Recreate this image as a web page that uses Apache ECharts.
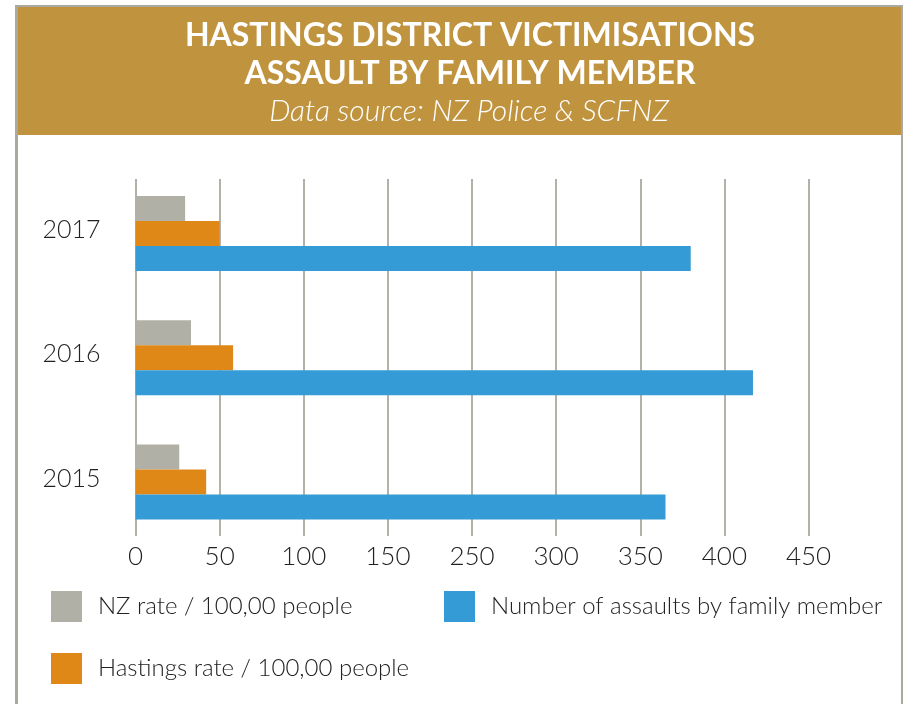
<!DOCTYPE html>
<html>
<head>
<meta charset="utf-8">
<script src="https://cdn.jsdelivr.net/npm/echarts@6/dist/echarts.min.js"></script>
<style>
html,body{margin:0;padding:0;background:#fff;}
#chart{width:903px;height:704px;}
</style>
</head>
<body>
<div id="chart"></div>
<script>
// ---- data ----
const years = ['2015', '2016', '2017'];
const nzRate = [26, 33, 29.5];
const hastingsRate = [42, 58, 50];
const assaults = [315, 367, 330];
const tickLabels = ['0', '50', '100', '150', '250', '300', '350', '400', '450'];
const seriesNames = ['NZ rate / 100,00 people', 'Hastings rate / 100,00 people', 'Number of assaults by family member'];
const titleLines = ['HASTINGS DISTRICT VICTIMISATIONS', 'ASSAULT BY FAMILY MEMBER', 'Data source: NZ Police & SCFNZ'];

const FONT = 'Lato';
const frameColor = '#aba99f';
const chart = echarts.init(document.getElementById('chart'), null, {renderer: 'canvas'});

const option = {
  backgroundColor: '#ffffff',
  animation: false,
  graphic: [
    {type: 'rect', z: -10, shape: {x: 18, y: 7, width: 884, height: 128}, style: {fill: '#c0943f'}},
    {type: 'rect', z: -10, shape: {x: 15, y: 5, width: 3, height: 700}, style: {fill: frameColor}},
    {type: 'rect', z: -10, shape: {x: 15, y: 5, width: 888, height: 2}, style: {fill: frameColor}},
    {type: 'rect', z: -10, shape: {x: 901, y: 5, width: 2, height: 700}, style: {fill: frameColor}}
  ],
  title: [
    {text: titleLines[0], left: 465, top: 15, textAlign: 'center',
     textStyle: {fontFamily: FONT, fontWeight: 'bold', fontSize: 32, color: '#ffffff'}},
    {text: titleLines[1], left: 465, top: 53, textAlign: 'center',
     textStyle: {fontFamily: FONT, fontWeight: 'bold', fontSize: 32, color: '#ffffff'}},
    {text: titleLines[2], left: 464, top: 91, textAlign: 'center',
     textStyle: {fontFamily: FONT, fontWeight: 300, fontStyle: 'italic', fontSize: 30, color: '#ffffff'}}
  ],
  legend: [
    {
      data: [seriesNames[0], seriesNames[1]],
      orient: 'vertical', left: 51, top: 591, padding: 0,
      itemWidth: 31, itemHeight: 31, itemGap: 31,
      icon: 'rect',
      textStyle: {fontFamily: FONT, fontWeight: 300, fontSize: 24, color: '#222222', padding: [0, 0, 0, 11]}
    },
    {
      data: [seriesNames[2]],
      orient: 'vertical', left: 444, top: 591, padding: 0,
      itemWidth: 31, itemHeight: 31,
      icon: 'rect',
      textStyle: {fontFamily: FONT, fontWeight: 300, fontSize: 24, color: '#222222', padding: [0, 0, 0, 11]}
    }
  ],
  grid: {left: 135.5, width: 673, top: 171.4, height: 372.8, containLabel: false},
  xAxis: {
    type: 'value', min: 0, max: 400, interval: 50,
    offset: -8.2,
    axisLine: {show: false},
    splitLine: {show: false},
    axisTick: {show: true, inside: true, length: 357, lineStyle: {color: '#b3b2a8', width: 2}},
    axisLabel: {
      margin: 8,
      fontFamily: FONT, fontWeight: 300, fontSize: 26, color: '#222222',
      formatter: function (v) { return tickLabels[Math.round(v / 50)]; }
    }
  },
  yAxis: {
    type: 'category', data: years,
    axisLine: {show: false}, axisTick: {show: false}, splitLine: {show: false},
    axisLabel: {
      margin: 35,
      formatter: function (v) { return '{y|' + v + '}'; },
      rich: {y: {fontFamily: FONT, fontWeight: 300, fontSize: 25, color: '#222222', padding: [0, 0, 7, 0]}}
    }
  },
  series: [
    {name: seriesNames[0], type: 'bar', data: nzRate, barWidth: 25, barGap: '0%', itemStyle: {color: '#b1b0a6'}},
    {name: seriesNames[1], type: 'bar', data: hastingsRate, barWidth: 25, barGap: '0%', itemStyle: {color: '#df8818'}},
    {name: seriesNames[2], type: 'bar', data: assaults, barWidth: 25, barGap: '0%', itemStyle: {color: '#359bd6'}}
  ]
};
chart.setOption(option);
</script>
</body>
</html>
